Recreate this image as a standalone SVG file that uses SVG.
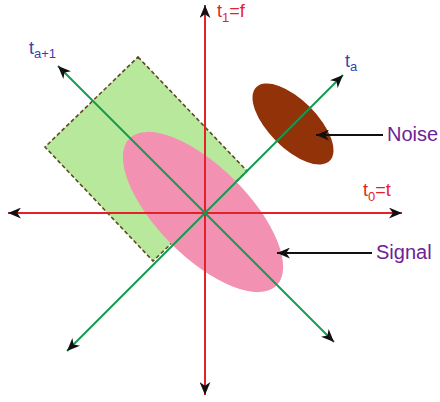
<svg xmlns="http://www.w3.org/2000/svg" width="440" height="402" viewBox="0 0 440 402">
<style>
.ax-red{stroke:#e3212b;stroke-width:2;fill:none}
.ax-green{stroke:#149a52;stroke-width:2;fill:none}
.ptr{stroke:#111;stroke-width:2;fill:none}
.lbl-red{font-family:"Liberation Sans",Arial,sans-serif;fill:#e3212b}
.lbl-blue{font-family:"Liberation Sans",Arial,sans-serif;fill:#3b3fae}
.lbl-purple{font-family:"Liberation Sans",Arial,sans-serif;fill:#6b2396;font-size:20px}
</style>
<defs>
<marker id="ah" viewBox="0 0 12 10" refX="12" refY="5" markerWidth="13" markerHeight="11" markerUnits="userSpaceOnUse" orient="auto-start-reverse">
<path d="M0,0 L12,5 L0,10 L3.5,5 z" fill="#111"/>
</marker>
</defs>
<rect width="440" height="402" fill="#fff"/>
<g id="window">
<polygon points="138,57 247,171 153,261 45,147" fill="#b8e89b" stroke="#5c4a22" stroke-width="1.6" stroke-dasharray="4,2.5"/>
</g>
<g id="signal-ellipse">
<ellipse cx="203" cy="212" rx="104" ry="45" transform="rotate(45 203 212)" fill="#f391b3"/>
</g>
<g id="noise-ellipse">
<ellipse cx="293" cy="124" rx="52" ry="24" transform="rotate(45 293 124)" fill="#913208"/>
</g>
<g id="connectors">
<line class="ax-red" x1="205" y1="395" x2="205" y2="5" marker-start="url(#ah)" marker-end="url(#ah)"/>
<line class="ax-red" x1="8" y1="213" x2="402" y2="213" marker-start="url(#ah)" marker-end="url(#ah)"/>
<line class="ax-green" x1="67" y1="351" x2="343" y2="75" marker-start="url(#ah)" marker-end="url(#ah)"/>
<line class="ax-green" x1="58" y1="66" x2="334" y2="342" marker-start="url(#ah)" marker-end="url(#ah)"/>
<line class="ptr" x1="383" y1="135" x2="316" y2="135" marker-end="url(#ah)"/>
<line class="ptr" x1="372" y1="253" x2="277" y2="253" marker-end="url(#ah)"/>
</g>
<g id="label-t1">
<text class="lbl-red" x="217" y="17" font-size="18">t<tspan font-size="13" dy="5">1</tspan><tspan dy="-5">=f</tspan></text>
</g>
<g id="label-ta">
<text class="lbl-blue" x="345" y="67" font-size="18">t<tspan font-size="13" dy="4">a</tspan></text>
</g>
<g id="label-ta1">
<text class="lbl-blue" x="29" y="54" font-size="18">t<tspan font-size="13" dy="4">a+1</tspan></text>
</g>
<g id="label-t0">
<text class="lbl-red" x="363" y="196" font-size="18">t<tspan font-size="13" dy="5">0</tspan><tspan dy="-5">=t</tspan></text>
</g>
<g id="label-noise">
<text class="lbl-purple" x="387" y="141">Noise</text>
</g>
<g id="label-signal">
<text class="lbl-purple" x="376" y="259">Signal</text>
</g>
</svg>
